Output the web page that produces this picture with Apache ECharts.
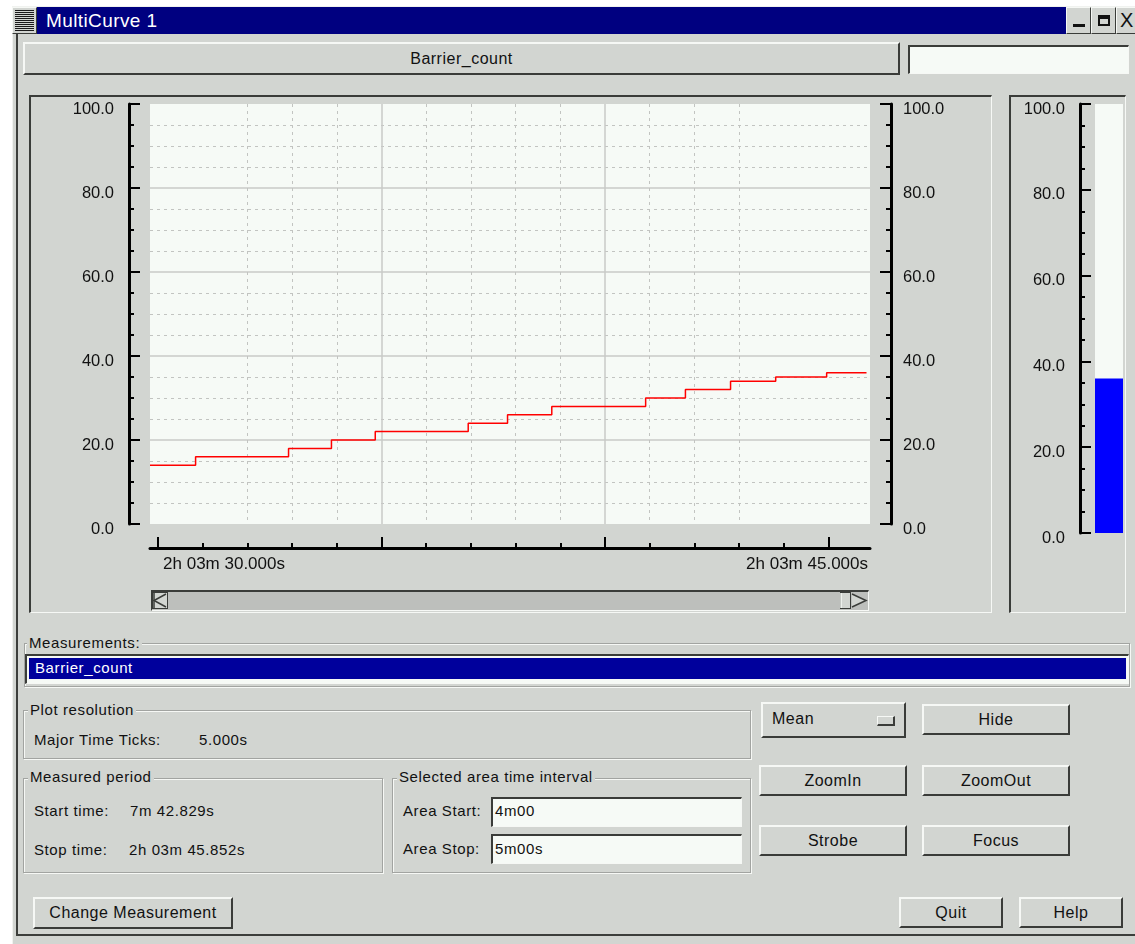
<!DOCTYPE html>
<html>
<head>
<meta charset="utf-8">
<title>MultiCurve 1</title>
<script src="https://cdn.jsdelivr.net/npm/echarts@6/dist/echarts.min.js"></script>
<style>
html,body{margin:0;padding:0;}
body{width:1135px;height:944px;overflow:hidden;background:#ffffff;position:relative;
  font-family:"Liberation Sans",Arial,Helvetica,sans-serif;color:#111;}
.abs{position:absolute;box-sizing:border-box;}
.btn{position:absolute;box-sizing:border-box;background:#d2d5d1;
  border-top:2px solid #f6f8f5;border-left:2px solid #f6f8f5;
  border-right:2px solid #3a3c39;border-bottom:2px solid #3a3c39;
  display:flex;align-items:center;justify-content:center;
  font-size:16px;letter-spacing:0.5px;color:#111;}
.field{position:absolute;box-sizing:border-box;background:#f6faf6;
  border-top:2px solid #3a3c39;border-left:2px solid #3a3c39;
  border-right:1px solid #f6f8f5;border-bottom:1px solid #f6f8f5;}
.group{position:absolute;box-sizing:border-box;border:1px solid #a2a4a1;
  box-shadow:inset 1px 1px 0 #f6f8f5, 1px 1px 0 #f6f8f5;}
.glabel{position:absolute;background:#d2d5d1;padding:0 2px;font-size:15px;line-height:16px;
  letter-spacing:0.6px;white-space:pre;}
.txt{position:absolute;font-size:15px;line-height:16px;letter-spacing:0.6px;white-space:pre;}
.sunk{position:absolute;box-sizing:border-box;
  border-top:2px solid #3a3c39;border-left:2px solid #3a3c39;
  border-right:1px solid #f6f8f5;border-bottom:1px solid #f6f8f5;}
#chart{position:absolute;left:0;top:0;width:1135px;height:944px;z-index:5;pointer-events:none;}
</style>
</head>
<body>
<!-- window frame -->
<div class="abs" style="left:12px;top:6px;width:1140px;height:950px;background:#d2d5d1;border-left:1px solid #f0f2ef;border-top:1px solid #f0f2ef;"></div>
<div class="abs" style="left:16px;top:34px;width:1130px;height:902px;border-left:2px solid #3c3e3b;border-bottom:2px solid #3c3e3b;"></div>
<!-- title bar -->
<div class="abs" style="left:12px;top:7px;width:25px;height:27px;background:#d2d5d1;border:1px solid #f6f8f5;border-right-color:#3a3c39;border-bottom-color:#3a3c39;"></div>
<div class="abs" style="left:15px;top:10px;width:19px;height:21px;background:repeating-linear-gradient(#1a1a1a 0 1px,#d2d5d1 1px 2px);"></div>
<div class="abs" style="left:37px;top:7px;width:1029px;height:27px;background:#000080;"></div>
<div class="abs" style="left:46px;top:8px;height:26px;line-height:26px;font-size:19px;color:#ffffff;letter-spacing:0.4px;">MultiCurve 1</div>
<div class="btn" style="left:1066px;top:7px;width:25px;height:27px;border-width:1px;"><div style="width:12px;height:3px;background:#111;margin-top:10px;"></div></div>
<div class="btn" style="left:1091px;top:7px;width:25px;height:27px;border-width:1px;"><div style="width:12px;height:11px;box-sizing:border-box;border:2px solid #111;border-top-width:4px;"></div></div>
<div class="btn" style="left:1116px;top:7px;width:25px;height:27px;border-width:1px;justify-content:flex-start;padding-left:3px;font-size:20px;">X</div>

<!-- top row -->
<div class="btn" style="left:23px;top:42px;width:877px;height:33px;">Barrier_count</div>
<div class="field" style="left:908px;top:45px;width:221px;height:29px;"></div>

<!-- plot panels -->
<div class="sunk" style="left:29px;top:95px;width:963px;height:518px;"></div>
<div class="sunk" style="left:1009px;top:95px;width:117px;height:518px;"></div>

<!-- scrollbar -->
<div class="abs" style="left:151px;top:590px;width:718px;height:21px;background:#bdbfbc;border-top:2px solid #3a3c39;border-left:1px solid #3a3c39;border-bottom:1px solid #f6f8f5;border-right:1px solid #f6f8f5;"></div>
<svg class="abs" style="left:151px;top:590px;" width="718" height="21">
  <rect x="1.5" y="2.5" width="15" height="16" fill="#d2d5d1" stroke="#3a3c39" stroke-width="1"/>
  <path d="M15 4 L3 10.5 L15 17" fill="none" stroke="#3a3c39" stroke-width="1.5"/>
  <line x1="3" y1="3" x2="3" y2="18" stroke="#3a3c39" stroke-width="1.5"/>
  <rect x="689.5" y="2.5" width="10" height="16" fill="#d2d5d1" stroke="#3a3c39" stroke-width="1"/>
  <line x1="690" y1="3" x2="690" y2="18" stroke="#f6f8f5" stroke-width="1.5"/>
  <path d="M701 4 L715 10.5 L701 17" fill="#d2d5d1" stroke="#3a3c39" stroke-width="1.5"/>
</svg>

<!-- Measurements -->
<div class="group" style="left:24px;top:643px;width:1106px;height:44px;"></div>
<div class="glabel" style="left:27px;top:635px;">Measurements:</div>
<div class="field" style="left:25px;top:654px;width:1104px;height:30px;"></div>
<div class="abs" style="left:28px;top:657px;width:1099px;height:23px;background:#00009c;border:1px solid #f6f8f5;"></div>
<div class="txt" style="left:35px;top:660px;color:#ffffff;">Barrier_count</div>

<!-- Plot resolution -->
<div class="group" style="left:23px;top:710px;width:728px;height:49px;"></div>
<div class="glabel" style="left:28px;top:702px;">Plot resolution</div>
<div class="txt" style="left:34px;top:732px;">Major Time Ticks:</div>
<div class="txt" style="left:199px;top:732px;">5.000s</div>

<!-- Measured period -->
<div class="group" style="left:23px;top:778px;width:360px;height:95px;"></div>
<div class="glabel" style="left:28px;top:769px;">Measured period</div>
<div class="txt" style="left:34px;top:803px;">Start time:</div>
<div class="txt" style="left:130px;top:803px;">7m 42.829s</div>
<div class="txt" style="left:34px;top:842px;">Stop time:</div>
<div class="txt" style="left:129px;top:842px;">2h 03m 45.852s</div>

<!-- Selected area -->
<div class="group" style="left:392px;top:778px;width:359px;height:95px;"></div>
<div class="glabel" style="left:397px;top:769px;">Selected area time interval</div>
<div class="txt" style="left:403px;top:803px;">Area Start:</div>
<div class="field" style="left:491px;top:797px;width:251px;height:30px;"></div>
<div class="txt" style="left:495px;top:803px;">4m00</div>
<div class="txt" style="left:403px;top:841px;">Area Stop:</div>
<div class="field" style="left:491px;top:834px;width:251px;height:30px;"></div>
<div class="txt" style="left:495px;top:841px;">5m00s</div>

<!-- Buttons -->
<div class="btn" style="left:761px;top:702px;width:145px;height:36px;justify-content:flex-start;align-items:flex-start;padding:6px 0 0 9px;">Mean</div>
<div class="abs" style="left:877px;top:716px;width:18px;height:10px;background:#d2d5d1;border-top:1px solid #f6f8f5;border-left:1px solid #f6f8f5;border-right:2px solid #3a3c39;border-bottom:2px solid #3a3c39;"></div>
<div class="btn" style="left:922px;top:704px;width:148px;height:31px;">Hide</div>
<div class="btn" style="left:759px;top:765px;width:148px;height:31px;">ZoomIn</div>
<div class="btn" style="left:922px;top:765px;width:148px;height:31px;">ZoomOut</div>
<div class="btn" style="left:759px;top:825px;width:148px;height:31px;">Strobe</div>
<div class="btn" style="left:922px;top:825px;width:148px;height:31px;">Focus</div>
<div class="btn" style="left:33px;top:897px;width:200px;height:32px;">Change Measurement</div>
<div class="btn" style="left:899px;top:897px;width:104px;height:31px;">Quit</div>
<div class="btn" style="left:1019px;top:897px;width:104px;height:31px;">Help</div>

<div id="chart"></div>

<script>
// ---- data ----
const timeLabels = ['2h 03m 30.000s', '2h 03m 45.000s'];          // x tick labels at the ends
const majorTimeTicks = [30, 35, 40, 45];                              // seconds after 2h 03m
const minorTimeTicks = [31, 32, 33, 34, 36, 37, 38, 39, 41, 42, 43, 44];
const stepTimes  = [29.82, 30.84, 32.92, 33.88, 34.86, 36.94, 37.82, 38.81, 40.91, 41.80, 42.81, 43.82, 44.96, 45.852];
const stepValues = [14, 16, 18, 20, 22, 24, 26, 28, 30, 32, 34, 35, 36, 36];
const barCategory = ['Barrier_count'];
const currentValue = [36];
const xMin = 29.82;
const xMax = 45.93;
const yMin = 0, yMax = 100, yStep = 20;

// ---- chart ----
const FONT = '"Liberation Sans", Arial, Helvetica, sans-serif';
const chart = echarts.init(document.getElementById('chart'), null, {renderer: 'canvas', width: 1135, height: 944});
const black = '#000000';
// leading blank line nudges the label a few pixels below its tick, as in the original widget
const fmt = v => '\n' + Number(v).toFixed(1);

function yAxisBase(gridIndex, position, offset, margin) {
  return {
    gridIndex, type: 'value', min: yMin, max: yMax, interval: yStep, position, offset,
    axisLine: {show: true, onZero: false, lineStyle: {color: black, width: 3}},
    axisTick: {show: true, inside: true, length: 11, lineStyle: {color: black, width: 2}},
    minorTick: {show: true, splitNumber: 4, length: 5, lineStyle: {color: black, width: 2}},
    axisLabel: {show: true, margin, formatter: fmt, fontSize: 16.5, lineHeight: 10, fontFamily: FONT, color: '#111', hideOverlap: false},
    splitLine: {show: false},
    minorSplitLine: {show: false}
  };
}

const yLeft = yAxisBase(0, 'left', 21, 15);
yLeft.splitLine = {show: true, showMinLine: false, showMaxLine: false, lineStyle: {color: '#c8cac7', width: 1.5}};
yLeft.minorSplitLine = {show: true, lineStyle: {color: '#c2c4c1', width: 1, type: [3, 4]}};

const option = {
  backgroundColor: 'transparent',
  animation: false,
  grid: [
    {left: 150, top: 104, width: 720, height: 420, show: true, backgroundColor: '#f6faf6', borderWidth: 0, containLabel: false, outerBoundsMode: 'none'},
    {left: 1095, top: 104, width: 28, height: 429, show: true, backgroundColor: '#f6faf6', borderWidth: 0, containLabel: false, outerBoundsMode: 'none'}
  ],
  xAxis: [
    {gridIndex: 0, type: 'value', min: xMin, max: xMax, position: 'bottom', offset: 24,
      axisLine: {show: true, onZero: false, lineStyle: {color: black, width: 3}},
      axisTick: {show: true, inside: true, length: 11, customValues: majorTimeTicks, lineStyle: {color: black, width: 2}},
      axisLabel: {show: false},
      splitLine: {show: true, showMinLine: false, showMaxLine: false, lineStyle: {color: '#c8cac7', width: 1.5}}},
    {gridIndex: 0, type: 'value', min: xMin, max: xMax, position: 'bottom', offset: 24,
      axisLine: {show: false, onZero: false},
      axisTick: {show: true, inside: true, length: 5, customValues: minorTimeTicks, lineStyle: {color: black, width: 2}},
      axisLabel: {show: false},
      splitLine: {show: true, showMinLine: false, showMaxLine: false, lineStyle: {color: '#c2c4c1', width: 1, type: [3, 4]}}},
    {gridIndex: 0, type: 'value', min: xMin, max: xMax, position: 'bottom', offset: 24,
      axisLine: {show: false, onZero: false}, axisTick: {show: false}, splitLine: {show: false},
      axisLabel: {show: true, customValues: [majorTimeTicks[0]], formatter: () => timeLabels[0], align: 'left',
        margin: 8, padding: [0, 0, 0, 5], fontSize: 17, fontFamily: FONT, color: '#111', hideOverlap: false}},
    {gridIndex: 0, type: 'value', min: xMin, max: xMax, position: 'bottom', offset: 24,
      axisLine: {show: false, onZero: false}, axisTick: {show: false}, splitLine: {show: false},
      axisLabel: {show: true, customValues: [xMax], formatter: () => timeLabels[1], align: 'right',
        margin: 8, padding: [0, 2, 0, 0], fontSize: 17, fontFamily: FONT, color: '#111', hideOverlap: false}},
    {gridIndex: 1, type: 'category', data: barCategory, show: false,
      axisLine: {show: false}, axisTick: {show: false}, axisLabel: {show: false}}
  ],
  yAxis: [
    yLeft,
    yAxisBase(0, 'right', 21, 12),
    yAxisBase(1, 'left', 15, 15)
  ],
  series: [
    {type: 'line', name: 'Barrier_count', xAxisIndex: 0, yAxisIndex: 0, step: 'end', symbol: 'none', silent: true,
      clip: true, data: stepTimes.map((t, i) => [t, stepValues[i]]),
      lineStyle: {color: '#ff0000', width: 1.5}, itemStyle: {color: '#ff0000'}},
    {type: 'bar', name: 'Barrier_count', xAxisIndex: 4, yAxisIndex: 2, data: currentValue, barWidth: '100%', silent: true,
      itemStyle: {color: '#0000ff'}}
  ]
};
chart.setOption(option);
</script>
</body>
</html>
